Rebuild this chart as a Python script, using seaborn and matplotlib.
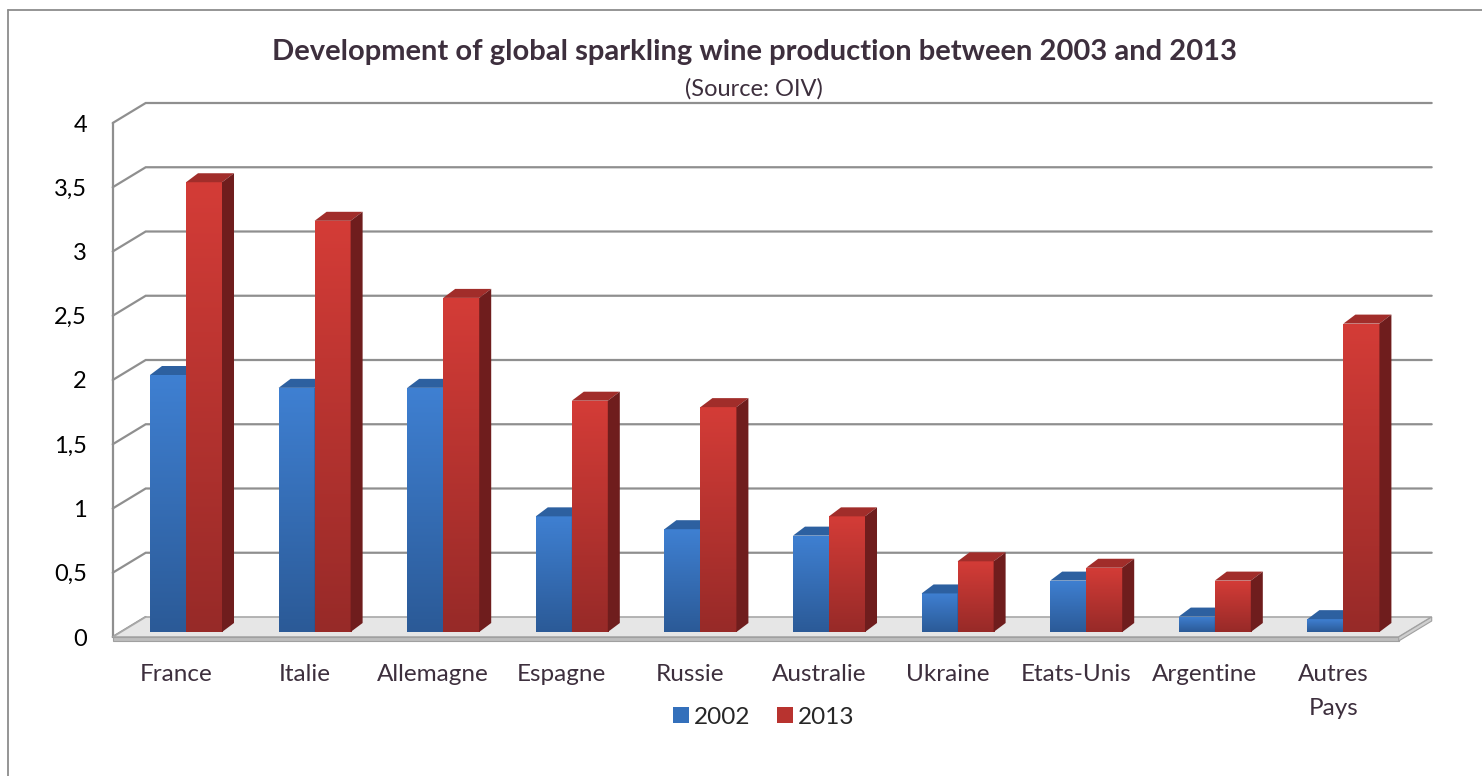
import numpy as np
import pandas as pd
import matplotlib
matplotlib.use("Agg")
import matplotlib.pyplot as plt
import seaborn as sns
from matplotlib.patches import Polygon, Patch
from matplotlib.lines import Line2D
from matplotlib.colors import LinearSegmentedColormap
from matplotlib.transforms import ScaledTranslation

# --- data -----------------------------------------------------------------
countries = ["France", "Italie", "Allemagne", "Espagne", "Russie", "Australie",
             "Ukraine", "Etats-Unis", "Argentine", "Autres\nPays"]
prod_2002 = [2.0, 1.9, 1.9, 0.9, 0.8, 0.75, 0.3, 0.4, 0.12, 0.1]
prod_2013 = [3.5, 3.2, 2.6, 1.8, 1.75, 0.9, 0.55, 0.5, 0.4, 2.4]
years = ["2002", "2013"]
y_ticks = [0, 0.5, 1, 1.5, 2, 2.5, 3, 3.5, 4]
y_tick_labels = ["0", "0,5", "1", "1,5", "2", "2,5", "3", "3,5", "4"]

title = "Development of global sparkling wine production between 2003 and 2013"
subtitle = "(Source: OIV)"

# --- style ----------------------------------------------------------------
sns.set_style("white")
plt.rcParams["font.family"] = ["Lato", "DejaVu Sans"]

face_cols = {"2002": ("#3f80d2", "#2b5a97"), "2013": ("#d43c37", "#972a28")}
top_cols = {"2002": "#2d60a0", "2013": "#a12d2a"}
side_cols = {"2002": "#264f86", "2013": "#6f1d1d"}
legend_cols = {"2002": "#3470bb", "2013": "#b8332f"}
grid_col = "#8f8f8f"
text_col = "#3d2f3d"

W, H, DPI = 1482, 776, 100
fig = plt.figure(figsize=(W / DPI, H / DPI), dpi=DPI)

# axes = plane of the bars' front faces
ax_left, ax_right = 121.7, 1407.7
ax_bottom, ax_top = 632.0, 118.0
ax = fig.add_axes([ax_left / W, 1 - ax_bottom / H,
                   (ax_right - ax_left) / W, (ax_bottom - ax_top) / H])

df = pd.DataFrame({
    "country": countries * 2,
    "year": [years[0]] * len(countries) + [years[1]] * len(countries),
    "value": prod_2002 + prod_2013,
})
sns.barplot(data=df, x="country", y="value", hue="year", order=countries,
            hue_order=years, palette=legend_cols, width=0.56, saturation=1,
            legend=False, ax=ax, linewidth=0)

xmin, xmax, ymin, ymax = -0.5, len(countries) - 0.5, 0, 4
ppx = (ax_right - ax_left) / (xmax - xmin)   # pixels per category unit
ppy = (ax_bottom - ax_top) / (ymax - ymin)   # pixels per value unit

# depth offsets (pixels) for the oblique projection
back_dx, back_dy = 24 / ppx, 15 / ppy
front_dx, front_dy = -9 / ppx, -5 / ppy
bar_dx, bar_dy = 12 / ppx, 9 / ppy

# floor slab
fl = [(xmin + front_dx, front_dy), (xmax + front_dx, front_dy),
      (xmax + back_dx, back_dy), (xmin + back_dx, back_dy)]
ax.add_patch(Polygon(fl, closed=True, facecolor="#e6e6e6", edgecolor="#a8a8a8",
                     lw=1.2, zorder=0.5, clip_on=False))
slab_h = 4 / ppy
ax.add_patch(Polygon([(xmin + front_dx, front_dy), (xmax + front_dx, front_dy),
                      (xmax + front_dx, front_dy - slab_h),
                      (xmin + front_dx, front_dy - slab_h)],
                     closed=True, facecolor="#bdbdbd", edgecolor="#a0a0a0",
                     lw=0.8, zorder=0.5, clip_on=False))
ax.add_patch(Polygon([(xmax + front_dx, front_dy), (xmax + back_dx, back_dy),
                      (xmax + back_dx, back_dy - slab_h),
                      (xmax + front_dx, front_dy - slab_h)],
                     closed=True, facecolor="#cfcfcf", edgecolor="#a0a0a0",
                     lw=0.8, zorder=0.5, clip_on=False))

# walls: gridlines on left and back wall
for v in y_ticks:
    xs = [xmin + front_dx, xmin + back_dx, xmax + back_dx]
    ys = [v + front_dy, v + back_dy, v + back_dy]
    if v == 0:
        xs, ys = xs[:2], ys[:2]
    ax.add_line(Line2D(xs, ys, color=grid_col, lw=1.6, zorder=0.4,
                       clip_on=False, solid_joinstyle="miter"))
ax.add_line(Line2D([xmin + front_dx, xmin + front_dx],
                   [front_dy, ymax + front_dy], color=grid_col, lw=1.6,
                   zorder=0.4, clip_on=False))

# pseudo-3D bars: gradient front face, top face and side face
grad = np.linspace(0, 1, 256).reshape(-1, 1)
for k, (year, container) in enumerate(zip(years, ax.containers)):
    cmap = LinearSegmentedColormap.from_list(
        year, [face_cols[year][1], face_cols[year][0]])
    z = 3 + 2 * k
    for bar in container:
        x0, w, h = bar.get_x(), bar.get_width(), bar.get_height()
        x1 = x0 + w
        bar.set_zorder(z)
        im = ax.imshow(grad, extent=(x0, x1, 0, h), origin="lower",
                       cmap=cmap, aspect="auto", zorder=z + 0.1,
                       interpolation="bilinear")
        im.set_clip_path(bar)
        ax.add_patch(Polygon([(x0, h), (x1, h), (x1 + bar_dx, h + bar_dy),
                              (x0 + bar_dx, h + bar_dy)], closed=True,
                             facecolor=top_cols[year], edgecolor="none",
                             zorder=z + 0.2, clip_on=False))
        ax.add_patch(Polygon([(x1, 0), (x1, h), (x1 + bar_dx, h + bar_dy),
                              (x1 + bar_dx, bar_dy)], closed=True,
                             facecolor=side_cols[year], edgecolor="none",
                             zorder=z + 0.2, clip_on=False))

ax.set_xlim(xmin, xmax)
ax.set_ylim(ymin, ymax)
for s in ax.spines.values():
    s.set_visible(False)
ax.set_xlabel("")
ax.set_ylabel("")
ax.set_yticks(y_ticks)
ax.set_yticklabels(y_tick_labels)
ax.tick_params(axis="y", length=0, pad=25, labelsize=17, labelcolor="black")
ax.tick_params(axis="x", length=0, pad=23, labelsize=17.5, labelcolor=text_col)
for lbl in ax.get_xticklabels():
    lbl.set_linespacing(1.75)
    lbl.set_transform(lbl.get_transform()
                      + ScaledTranslation(-10 / DPI, 0, fig.dpi_scale_trans))
for lbl in ax.get_yticklabels():
    lbl.set_transform(lbl.get_transform()
                      + ScaledTranslation(0, -5 / DPI, fig.dpi_scale_trans))

# titles
fig.text(754 / W, 1 - 52 / H, title, ha="center", va="center",
         fontsize=21, fontweight="bold", color=text_col)
fig.text(754 / W, 1 - 89 / H, subtitle, ha="center", va="center",
         fontsize=17, color=text_col)

# legend
handles = [Patch(facecolor=legend_cols[y], edgecolor="none", label=y)
           for y in years]
fig.legend(handles=handles, loc="center", bbox_to_anchor=(764 / W, 1 - 717 / H),
           ncol=2, frameon=False, fontsize=17.5, handlelength=0.65,
           handleheight=0.65, handletextpad=0.2, columnspacing=1.1)

# chart border (left and top edges visible)
fig.add_artist(Line2D([8 / W, 8 / W], [0, 1 - 10 / H], color="#8c8c8c",
                      lw=1.3, transform=fig.transFigure))
fig.add_artist(Line2D([8 / W, 1], [1 - 10 / H, 1 - 10 / H], color="#8c8c8c",
                      lw=1.3, transform=fig.transFigure))

fig.savefig("out.png", dpi=DPI)
